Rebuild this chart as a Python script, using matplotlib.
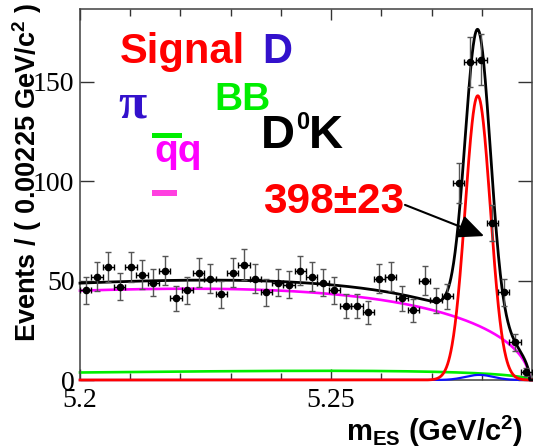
import numpy as np
import matplotlib
matplotlib.use("Agg")
import matplotlib.pyplot as plt
from matplotlib.patches import Rectangle

plt.rcParams['font.family'] = ['Liberation Sans', 'DejaVu Sans']
plt.rcParams['mathtext.fontset'] = 'custom'
plt.rcParams['mathtext.rm'] = 'Liberation Sans:bold'
plt.rcParams['mathtext.it'] = 'Liberation Sans:bold'
plt.rcParams['mathtext.bf'] = 'Liberation Sans:bold'
plt.rcParams['mathtext.default'] = 'rm'

# ---- histogram of m_ES (40 bins, 5.20 - 5.29 GeV/c^2) ----
m_lo, m_hi = 5.20, 5.29
bin_width = 0.00225
counts = [45, 52, 57, 47, 57, 53, 49, 55, 41, 45,
          54, 51, 43, 54, 58, 51, 44, 49, 48, 55,
          52, 49, 45, 37, 37, 34, 51, 52, 41, 35,
          50, 40, 42, 99, 160, 161, 79, 44, 19, 4]

# ---- fit components ----
signal_yield = 398
signal_err = 23
signal_mean = 5.2792
signal_sigma = 0.0025

dpi_yield = 8.0          # peaking D pi component
dpi_mean = 5.2795
dpi_sigma = 0.0028

argus_m0 = 5.2895
qq_norm, qq_shape = 89.8, -19.2     # continuum (qq) ARGUS
bb_norm, bb_shape = 11.6, -32.0     # generic BB ARGUS

x_major = [5.2, 5.25]
x_major_labels = ['5.2', '5.25']
x_minor = [5.21, 5.22, 5.23, 5.24, 5.26, 5.27, 5.28]
y_major = [0, 50, 100, 150]
y_major_labels = ['0', '50', '100', '150']


def gauss_per_bin(m, n, mu, sig):
    return n * bin_width / (sig * np.sqrt(2 * np.pi)) * np.exp(-0.5 * ((m - mu) / sig) ** 2)


def argus(m, norm, c):
    u = np.clip(1 - (m / argus_m0) ** 2, 0, None)
    return norm * m * np.sqrt(u) * np.exp(c * u)


W, H = 533, 446
fig = plt.figure(figsize=(W / 100, H / 100), dpi=100)
ax = fig.add_axes([80 / W, 66 / H, 452 / W, 371 / H])


def fpos(px, py):
    return px / W, 1 - py / H


centers = m_lo + bin_width * (np.arange(len(counts)) + 0.5)
counts_arr = np.array(counts, dtype=float)

mm = np.linspace(m_lo, m_hi, 1200)
sig_curve = gauss_per_bin(mm, signal_yield, signal_mean, signal_sigma)
dpi_curve = gauss_per_bin(mm, dpi_yield, dpi_mean, dpi_sigma)
qq_curve = argus(mm, qq_norm, qq_shape)
bb_curve = argus(mm, bb_norm, bb_shape)
total = sig_curve + dpi_curve + qq_curve + bb_curve

ax.plot(mm, bb_curve, color='#00ee00', lw=1.9, clip_on=False, zorder=2)
ax.plot(mm, qq_curve, color='#ff00ff', lw=1.9, clip_on=False, zorder=2)
ax.plot(mm, dpi_curve, color='#1010ff', lw=1.6, clip_on=False, zorder=3)
ax.plot(mm, sig_curve, color='#ff0000', lw=2.0, clip_on=False, zorder=4)
ax.plot(mm, total, color='black', lw=2.0, clip_on=False, zorder=5)

# data points with Poisson errors
ax.errorbar(centers, counts_arr, yerr=np.sqrt(counts_arr), fmt='none',
            ecolor='#555555', elinewidth=1.0, capsize=2.5, capthick=1.0, zorder=6)
ax.errorbar(centers, counts_arr, xerr=bin_width / 2, fmt='o', color='black',
            ms=4.5, ecolor='black', elinewidth=1.0, capsize=2.5, capthick=1.0, zorder=7)

ax.set_xlim(m_lo, m_hi)
ax.set_ylim(0, 186.5)
ax.set_xticks(x_major)
ax.set_xticklabels(x_major_labels)
ax.set_xticks(x_minor, minor=True)
ax.set_yticks(y_major)
ax.set_yticklabels(y_major_labels)

ax.tick_params(which='both', direction='in', top=True, right=True,
               color='#333333', width=1.0)
ax.tick_params(axis='x', which='major', length=8, pad=6)
ax.tick_params(axis='x', which='minor', length=5)
ax.tick_params(axis='y', which='major', length=10, pad=4)
for lab in ax.get_xticklabels() + ax.get_yticklabels():
    lab.set_fontfamily('Liberation Serif')
    lab.set_fontsize(20)
for sp in ax.spines.values():
    sp.set_color('#404040')
    sp.set_linewidth(1.1)

# axis titles
fig.text(*fpos(27, 172), 'Events / ( 0.00225 GeV/c$^{2}$ )', rotation=90,
         ha='center', va='center', fontsize=19.5, fontweight='bold')
fig.text(*fpos(523, 441), 'm$_{ES}$ (GeV/c$^{2}$)', ha='right', va='baseline',
         fontsize=21, fontweight='bold')

# component labels
fig.text(*fpos(120, 63), 'Signal', color='#ff0000', fontsize=30,
         fontweight='bold', va='baseline')
fig.text(*fpos(262, 63), 'D', color='#3311cc', fontsize=30,
         fontweight='bold', va='baseline')
fig.text(*fpos(118, 117), 'π', color='#3311cc', fontsize=37,
         fontweight='bold', va='baseline', family='Liberation Serif')
fig.text(*fpos(214, 110), 'BB', color='#00ee00', fontsize=28,
         fontweight='bold', va='baseline')
fig.text(*fpos(154, 162), 'qq', color='#ff00ff', fontsize=28,
         fontweight='bold', va='baseline')
fig.add_artist(Rectangle(fpos(152, 138), 30 / W, 5 / H, transform=fig.transFigure,
                         color='#00ee00', lw=0))
fig.add_artist(Rectangle(fpos(152, 196), 25 / W, 6 / H, transform=fig.transFigure,
                         color='#ff40e0', lw=0))
fig.text(*fpos(261, 148), 'D', color='black', fontsize=34,
         fontweight='bold', va='baseline')
fig.text(*fpos(296, 129), '0', color='black', fontsize=17,
         fontweight='bold', va='baseline')
fig.text(*fpos(309, 148), 'K', color='black', fontsize=34,
         fontweight='bold', va='baseline')
fig.text(*fpos(263, 213), f'{signal_yield}±{signal_err}', color='#ff0000',
         fontsize=30.5, fontweight='bold', va='baseline')

ax.annotate('', xy=(0.894, 0.388), xytext=(0.719, 0.472),
            xycoords='axes fraction', textcoords='axes fraction',
            arrowprops=dict(arrowstyle='-|>,head_length=1.0,head_width=0.45',
                            color='black', lw=1.5, mutation_scale=16,
                            shrinkA=0, shrinkB=0), zorder=8)

fig.savefig('out.png', dpi=100)
